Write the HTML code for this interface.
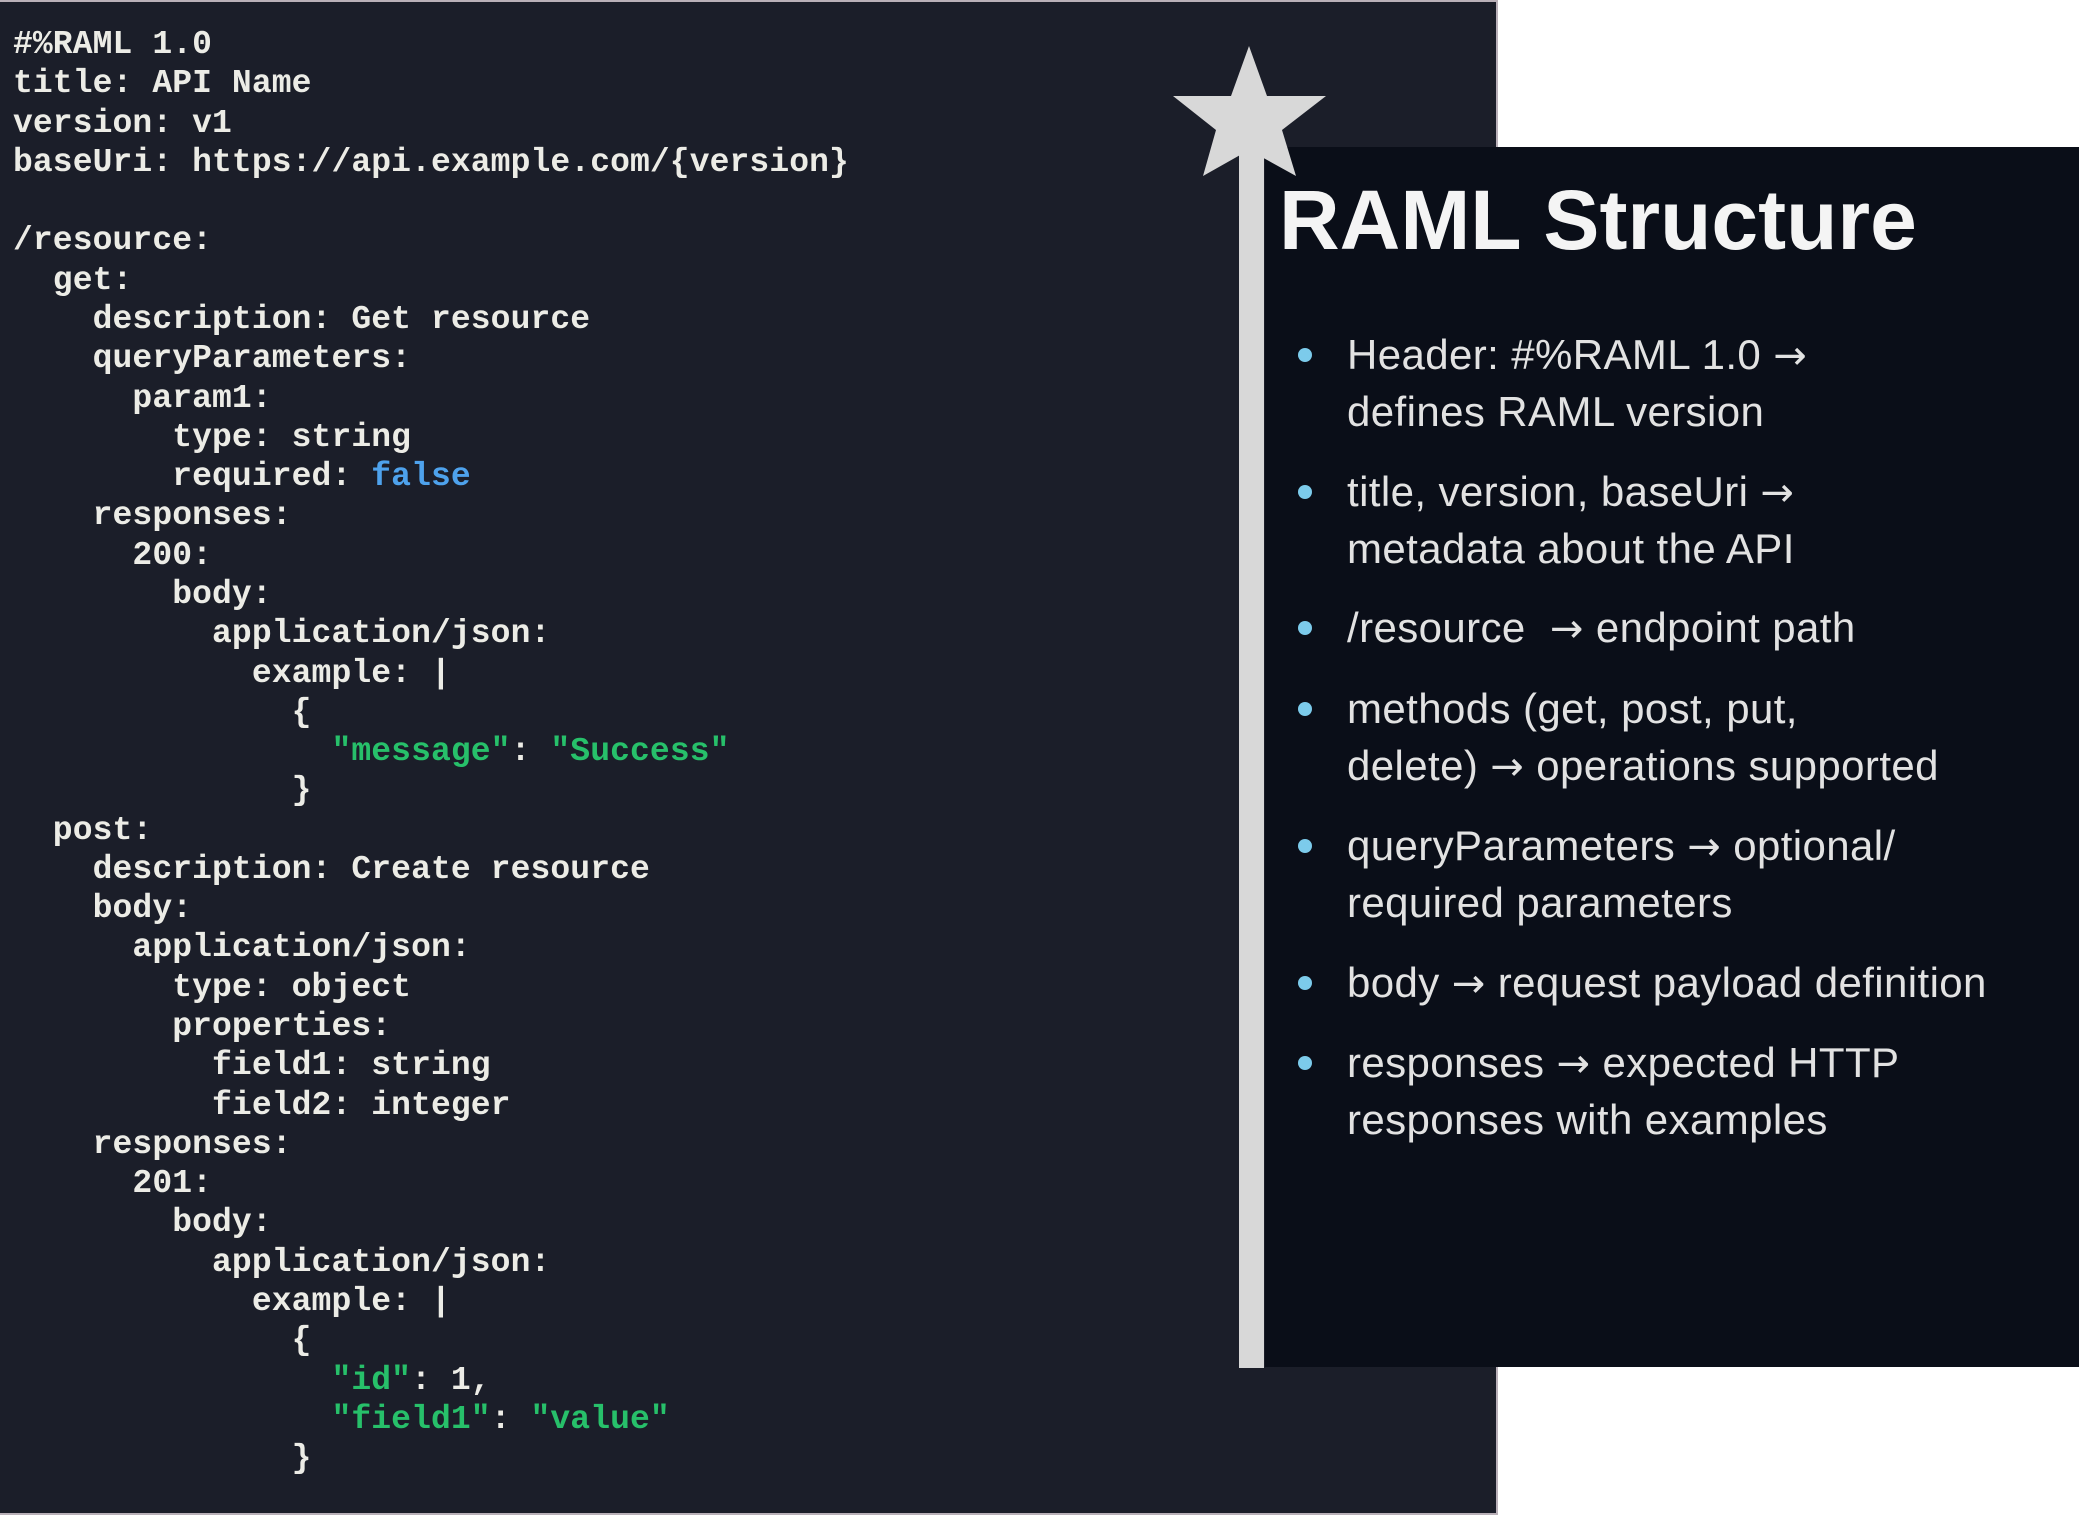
<!DOCTYPE html>
<html><head><meta charset="utf-8"><style>
body{margin:0;width:2079px;height:1516px;background:#fff;position:relative;overflow:hidden}
#code{position:absolute;left:0;top:0;width:1496px;height:1511px;background:#1b1e29;border-right:2px solid #b9b0b8;border-bottom:2px solid #b9b0b8;border-top:2px solid #b9b0b8}
pre{position:absolute;left:13px;top:25px;margin:0;font-family:"Liberation Mono","DejaVu Sans Mono",monospace;font-weight:bold;font-size:33px;line-height:39.28px;color:#ecece6;letter-spacing:0.1px}
.b{color:#4ea2ec}.g{color:#27c06a}
#right{position:absolute;left:1265px;top:147px;width:814px;height:1220px;background:#0a0e18}
#bar{position:absolute;left:1239px;top:150px;width:25px;height:1218px;background:#d8d8d8}
h1{position:absolute;left:1279px;top:170px;margin:0;font-family:"Liberation Sans",sans-serif;font-weight:bold;font-size:84px;line-height:100px;color:#f4f4f4;letter-spacing:0px}
.l{position:absolute;left:1347px;font-family:"Liberation Sans",sans-serif;font-size:42px;line-height:50px;color:#e2e2e2;white-space:nowrap;letter-spacing:0.4px}
.l i{font-style:normal;font-family:"DejaVu Sans",sans-serif;font-size:40px}
.d{position:absolute;left:1298px;width:14px;height:14px;border-radius:50%;background:#7ccbeb}
</style></head><body>
<div id="code"></div>
<pre>#%RAML 1.0
title: API Name
version: v1
baseUri: https://api.example.com/{version}

/resource:
  get:
    description: Get resource
    queryParameters:
      param1:
        type: string
        required: <span class="b">false</span>
    responses:
      200:
        body:
          application/json:
            example: |
              {
                <span class="g">"message"</span>: <span class="g">"Success"</span>
              }
  post:
    description: Create resource
    body:
      application/json:
        type: object
        properties:
          field1: string
          field2: integer
    responses:
      201:
        body:
          application/json:
            example: |
              {
                <span class="g">"id"</span>: 1,
                <span class="g">"field1"</span>: <span class="g">"value"</span>
              }</pre>
<div id="right"></div>
<div id="bar"></div>
<svg style="position:absolute;left:0;top:0" width="2079" height="1516"><polygon points="1249,46 1267,96 1326,96 1282,130 1296,176 1249,150 1203,176 1216,130 1173,96 1231,96" fill="#d8d8d8"/></svg>
<h1>RAML Structure</h1>
<div class="d" style="top:348px"></div><div class="l" style="top:330px">Header: #%RAML 1.0 <i>→</i></div><div class="l" style="top:387px">defines RAML version</div>
<div class="d" style="top:485px"></div><div class="l" style="top:467px">title, version, baseUri <i>→</i></div><div class="l" style="top:524px">metadata about the API</div>
<div class="d" style="top:621px"></div><div class="l" style="top:603px">/resource &nbsp;<i>→</i> endpoint path</div>
<div class="d" style="top:702px"></div><div class="l" style="top:684px">methods (get, post, put,</div><div class="l" style="top:741px">delete) <i>→</i> operations supported</div>
<div class="d" style="top:839px"></div><div class="l" style="top:821px">queryParameters <i>→</i> optional/</div><div class="l" style="top:878px">required parameters</div>
<div class="d" style="top:976px"></div><div class="l" style="top:958px">body <i>→</i> request payload definition</div>
<div class="d" style="top:1056px"></div><div class="l" style="top:1038px">responses <i>→</i> expected HTTP</div><div class="l" style="top:1095px">responses with examples</div>
</body></html>
